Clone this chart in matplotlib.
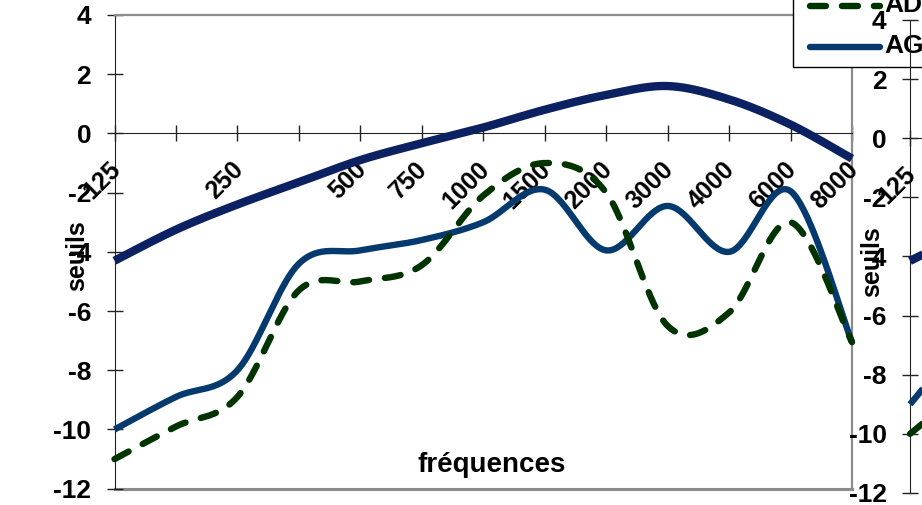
import numpy as np
import matplotlib
matplotlib.use("Agg")
import matplotlib.pyplot as plt
from matplotlib.lines import Line2D
from matplotlib.patches import Rectangle

plt.rcParams['font.family'] = ['Liberation Sans', 'DejaVu Sans']
plt.rcParams['font.weight'] = 'bold'

# Frequency categories (Hz); blank entries are unlabelled intermediate points
freq_labels = ['125', '', '250', '', '500', '750', '1000', '1500', '2000',
               '3000', '4000', '6000', '8000']

# Thresholds (dB) for each category
reference = [-4.3, -3.25, -2.4, -1.65, -0.9, -0.33, 0.2, 0.8, 1.3, 1.6, 1.15, 0.3, -0.85]
AG = [-10.0, -8.9, -8.0, -4.4, -3.95, -3.6, -3.0, -1.9, -3.95, -2.45, -4.0, -1.95, -7.05]
AD = [-11.0, -9.9, -8.9, -5.3, -5.0, -4.45, -2.1, -1.0, -2.0, -6.5, -6.05, -3.0, -7.05]

# Second chart (only its first points fall inside the figure)
right_labels = ['125', '']
right_reference = [-4.15, -3.1]
right_AG = [-9.0, -6.5]
right_AD = [-10.0, -8.3]

W, H = 922, 505
C_REF = '#0b2161'
C_AG = '#053a6f'
C_AD = '#003300'
FS = 19


def smooth(y, n=40):
    """Smoothed curve through the points (cubic Bezier, Catmull-Rom tangents)."""
    y = np.asarray(y, float)
    x = np.arange(len(y), dtype=float)
    pts = np.column_stack([x, y])
    ext = np.vstack([pts[0], pts, pts[-1]])
    out = []
    t = np.linspace(0, 1, n)[:, None]
    for i in range(len(pts) - 1):
        p0, p3 = ext[i + 1], ext[i + 2]
        p1 = p0 + (ext[i + 2] - ext[i]) / 6.0
        p2 = p3 - (ext[i + 3] - ext[i + 1]) / 6.0
        seg = ((1 - t) ** 3) * p0 + 3 * ((1 - t) ** 2) * t * p1 + 3 * (1 - t) * t ** 2 * p2 + t ** 3 * p3
        out.append(seg if i == 0 else seg[1:])
    c = np.vstack(out)
    return c[:, 0], c[:, 1]


def fig_xy(px, py):
    return px / W, 1 - py / H


def style_axes(ax, labels, full=True):
    ax.set_ylim(-12, 4)
    ax.set_xlim(0, 12)
    ax.set_yticks(np.arange(-12, 5, 2))
    ax.set_yticklabels([str(v) for v in range(-12, 5, 2)], fontsize=FS, fontweight='bold')
    ax.set_xticks(np.arange(len(labels)))
    ax.set_xticklabels([])
    ax.tick_params(axis='both', direction='inout', length=11.5, width=1.0, color='#222222')
    ax.tick_params(axis='y', pad=11)
    ax.spines['bottom'].set_position(('data', 0))
    ax.spines['bottom'].set_color('#222222')
    ax.spines['left'].set_color('#222222')
    for sp in ('top', 'right'):
        ax.spines[sp].set_color('#8c8c8c')
        ax.spines[sp].set_linewidth(1.6)
        ax.spines[sp].set_visible(full)
    if full:
        ax.axhline(-12, color='#8c8c8c', lw=2.2, clip_on=False, zorder=1)
    for i, lab in enumerate(labels):
        if lab:
            ax.annotate(lab, xy=(i, 0), xytext=(1.5, -23), textcoords='offset points',
                        rotation=45, rotation_mode='anchor', ha='right', va='center',
                        fontsize=FS - 1, fontweight='bold', annotation_clip=False)


def draw_series(ax, ref, ag, ad):
    x, y = smooth(ref)
    ax.plot(x, y, color=C_REF, lw=6.0, solid_capstyle='butt', clip_on=False, zorder=3)
    x, y = smooth(ag)
    ax.plot(x, y, color=C_AG, lw=4.6, solid_capstyle='butt', clip_on=False, zorder=4)
    x, y = smooth(ad)
    ax.plot(x, y, color=C_AD, lw=4.6, dashes=(2.5, 2.5), dash_capstyle='round',
            clip_on=False, zorder=4)


fig = plt.figure(figsize=(W / 100, H / 100), dpi=100)

# Main chart
ax = fig.add_axes([114.5 / W, (H - 488.7) / H, (852 - 114.5) / W, (488.7 - 15) / H])
style_axes(ax, freq_labels)
draw_series(ax, reference, AG, AD)
fig.text(*fig_xy(492, 465), 'fréquences', ha='center', va='center', fontsize=20, fontweight='bold')
fig.text(*fig_xy(77, 256), 'seuils', ha='center', va='center', rotation=90, fontsize=18, fontweight='bold')

# Legend
x0, y0 = fig_xy(793, 67)
x1, y1 = fig_xy(940, -20)
fig.add_artist(Rectangle((x0, y0), x1 - x0, y1 - y0, transform=fig.transFigure,
                         facecolor='white', edgecolor='black', lw=1.0, zorder=2))
for name, py, kw in (('AD', 6, dict(color=C_AD, lw=4.6, dashes=(2.5, 2.5), dash_capstyle='round')),
                     ('AG', 47, dict(color=C_AG, lw=4.6, solid_capstyle='round'))):
    xa, ya = fig_xy(810, py)
    xb, _ = fig_xy(880, py)
    fig.add_artist(Line2D([xa, xb], [ya, ya], transform=fig.transFigure, zorder=3, **kw))
    fig.text(*fig_xy(884, py - 1), name, ha='left', va='center', fontsize=FS, fontweight='bold', zorder=4)

# Second chart at the right edge
ax2 = fig.add_axes([910 / W, (H - 493) / H, (852 - 114.5) / W, (493 - 20) / H])
ax2.patch.set_alpha(0)
ax2.set_zorder(5)
style_axes(ax2, right_labels + [''] * 11, full=False)
draw_series(ax2, right_reference, right_AG, right_AD)
fig.text(*fig_xy(872, 262), 'seuils', ha='center', va='center', rotation=90, fontsize=18, fontweight='bold')

fig.savefig('out.png', dpi=100)
